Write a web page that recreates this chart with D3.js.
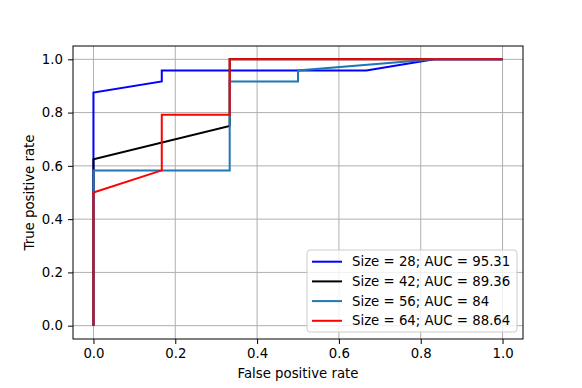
<!DOCTYPE html>
<html>
<head>
<meta charset="utf-8">
<script src="https://cdn.jsdelivr.net/npm/d3@7"></script>
<style>
  body { margin: 0; background: #fff; }
  text { font-family: "DejaVu Sans", sans-serif; fill: #000; }
  .axis path, .axis line { stroke: #000; stroke-width: 1; }
  .grid line { stroke: #b0b0b0; stroke-width: 1; }
</style>
</head>
<body>
<div id="chart"></div>
<script>

// ROC curves, one per size
var labels = ["Size = 28; AUC = 95.31", "Size = 42; AUC = 89.36", "Size = 56; AUC = 84", "Size = 64; AUC = 88.64"];
var colors = ["#0000ff", "#000000", "#1f77b4", "#ff0000"];

var fpr28 = [0, 0, 0.167, 0.167, 0.667, 0.833, 1];
var tpr28 = [0, 0.875, 0.917, 0.958, 0.958, 1, 1];

var fpr42 = [0, 0, 0.333, 0.333, 1];
var tpr42 = [0, 0.625, 0.75, 1, 1];

var fpr56 = [0, 0, 0.333, 0.333, 0.5, 0.5, 0.833, 1];
var tpr56 = [0, 0.583, 0.583, 0.917, 0.917, 0.958, 1, 1];

var fpr64 = [0, 0, 0.167, 0.167, 0.333, 0.333, 1];
var tpr64 = [0, 0.5, 0.583, 0.792, 0.792, 1, 1];

var ticks = [0, 0.2, 0.4, 0.6, 0.8, 1.0];

var series = [[fpr28, tpr28], [fpr42, tpr42], [fpr56, tpr56], [fpr64, tpr64]];

var margin = { left: 73, right: 59, top: 46, bottom: 49 };
var W = 582, H = 388;
var width = W - margin.left - margin.right;
var height = H - margin.top - margin.bottom;
var fs = "13.3px";

var svg = d3.select("#chart").append("svg")
    .attr("width", W)
    .attr("height", H);

var g = svg.append("g")
    .attr("transform", "translate(" + margin.left + "," + margin.top + ")");

var x = d3.scaleLinear().domain([-0.05, 1.05]).range([0, width]);
var y = d3.scaleLinear().domain([-0.05, 1.05]).range([height, 0]);

// grid
g.append("g").attr("class", "grid")
    .selectAll("line").data(ticks).enter().append("line")
    .attr("x1", function(d){ return x(d) }).attr("x2", function(d){ return x(d) })
    .attr("y1", 0).attr("y2", height);
g.append("g").attr("class", "grid")
    .selectAll("line").data(ticks).enter().append("line")
    .attr("y1", function(d){ return y(d) }).attr("y2", function(d){ return y(d) })
    .attr("x1", 0).attr("x2", width);

var line = d3.line()
    .x(function(d) { return x(d[0]); })
    .y(function(d) { return y(d[1]); });

series.forEach(function(s, i) {
    var pts = s[0].map(function(v, j) { return [v, s[1][j]]; });
    g.append("path")
        .datum(pts)
        .attr("d", line)
        .attr("fill", "none")
        .attr("stroke", colors[i])
        .attr("stroke-width", 2)
        .attr("stroke-linejoin", "miter");
});

// axes
var xAxis = d3.axisBottom(x).tickValues(ticks).tickFormat(d3.format(".1f")).tickSize(5).tickPadding(5);
var yAxis = d3.axisLeft(y).tickValues(ticks).tickFormat(d3.format(".1f")).tickSize(5).tickPadding(5);

g.append("g").attr("class", "axis")
    .attr("transform", "translate(0," + height + ")")
    .call(xAxis)
    .call(function(a){ a.select(".domain").remove(); })
    .selectAll("text").style("font-size", fs).attr("font-family", null);

g.append("g").attr("class", "axis")
    .call(yAxis)
    .call(function(a){ a.select(".domain").remove(); })
    .selectAll("text").style("font-size", fs).attr("font-family", null);

// frame
g.append("rect")
    .attr("x", 0).attr("y", 0)
    .attr("width", width).attr("height", height)
    .attr("fill", "none").attr("stroke", "#000").attr("stroke-width", 1);

svg.append("text")
    .attr("x", margin.left + width / 2)
    .attr("y", 378)
    .style("text-anchor", "middle")
    .style("font-size", fs)
    .text("False positive rate");

svg.append("text")
    .attr("transform", "translate(34," + (margin.top + height / 2) + ") rotate(-90)")
    .style("text-anchor", "middle")
    .style("font-size", fs)
    .text("True positive rate");

// legend
var lg = g.append("g").attr("transform", "translate(" + (307 - margin.left) + "," + (250 - margin.top) + ")");
lg.append("rect")
    .attr("width", 210).attr("height", 82)
    .attr("rx", 3)
    .attr("fill", "#fff").attr("fill-opacity", 0.8)
    .attr("stroke", "#cccccc").attr("stroke-width", 1);

var item = lg.selectAll(".item").data(labels).enter().append("g")
    .attr("transform", function(d, i){ return "translate(0," + (11.7 + i * 19.7) + ")" });
item.append("line")
    .attr("x1", 5).attr("x2", 35)
    .attr("stroke", function(d, i){ return colors[i] })
    .attr("stroke-width", 2);
item.append("text")
    .attr("x", 45).attr("dy", "0.35em")
    .style("font-size", fs)
    .text(function(d){ return d });

</script>
</body>
</html>
